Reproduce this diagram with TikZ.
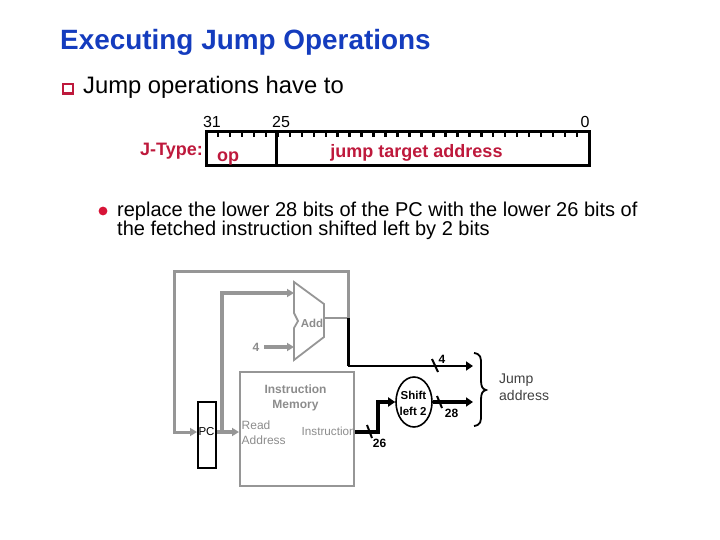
\documentclass[tikz,border=0pt]{standalone}
\usepackage{fontspec}
\setmainfont{Liberation Sans}
\usetikzlibrary{arrows.meta,shapes.geometric}
\definecolor{titleblue}{RGB}{20,60,190}
\definecolor{jred}{RGB}{190,25,60}
\definecolor{bred}{RGB}{215,20,55}
\definecolor{wgray}{RGB}{150,150,150}
\definecolor{tgray}{RGB}{140,140,140}
\tikzset{
 lab/.style={inner sep=0pt,align=center},
 tipg/.style={-{Triangle[length=7pt,width=8pt]}},
 tipb/.style={-{Triangle[length=7pt,width=9pt]}},
 graywire/.style={draw=wgray,line width=3.4pt,tipg},
 slash/.style={draw=black,line width=2pt},
 num/.style={lab,anchor=base,font=\fontsize{12}{12}\selectfont\bfseries},
 redb/.style={lab,anchor=base,text=jred,font=\fontsize{18}{18}\selectfont\bfseries},
 bits/.style={lab,anchor=base,font=\fontsize{16}{16}\selectfont},
}
\begin{document}
\begin{tikzpicture}[x=1pt,y=-1pt]
\useasboundingbox (0,0) rectangle (720,540);
% titles
\node[lab,anchor=base west,text=titleblue,font=\fontsize{27.9}{27.9}\selectfont\bfseries] (title) at (60,49.5) {Executing Jump Operations};
\node[draw=jred,line width=1.6pt,fill=white,minimum width=10.5pt,minimum height=9pt,inner sep=0pt] (b1) at (68,88.5) {};
\draw[jred,line width=2pt] (b1.south west) -- (b1.south east);
\node[lab,anchor=base west,font=\fontsize{23.8}{23.8}\selectfont] (t1) at (83,94) {Jump operations have to};
\node[bits] (n31) at (212,128) {31};
\node[bits] (n25) at (281,128) {25};
\node[bits] (n0) at (585,128) {0};
\node[redb,anchor=base east] (jt) at (203,156) {J-Type:};
% field box
\draw[line width=3pt] (206,132) rectangle (589,166);
\draw[line width=3pt] (276.5,132) -- (276.5,166);
\foreach \i in {1,...,31}
  \draw[line width=2.4pt] ({206+\i*11.97},132) -- ({206+\i*11.97},137);
\node[redb] (op) at (228,162) {op};
\node[redb] (jta) at (416.5,158) {jump target address};
% bullet
\fill[bred] (103,211) circle (4.4pt);
\node[lab,anchor=base west,font=\fontsize{20}{20}\selectfont] (t2a) at (117,216) {replace the lower 28 bits of the PC with the lower 26 bits of};
\node[lab,anchor=base west,font=\fontsize{20}{20}\selectfont] (t2b) at (117,236) {the fetched instruction shifted left by 2 bits};
% adder
\draw[wgray,line width=1.8pt,line join=miter] (294,282) -- (324,304) -- (324,337) -- (294,360) -- (294,328) -- (298,321) -- (294,313) -- cycle;
\node[lab,anchor=base,text=tgray,font=\fontsize{11.5}{11.5}\selectfont\bfseries] (add) at (312,327) {Add};
\coordinate (addIn1) at (294,293);
\coordinate (addIn2) at (294,347);
\coordinate (addOut) at (324,318);
\coordinate (corner) at (348,318);
% memory
\node[draw=wgray,line width=2pt,minimum width=114pt,minimum height=114pt,inner sep=0pt] (mem) at (297,429) {};
\node[lab,anchor=base,text=tgray,font=\fontsize{12}{12}\selectfont\bfseries] (memt) at (295.5,393) {Instruction};
\node[lab,anchor=base,text=tgray,font=\fontsize{12}{12}\selectfont\bfseries] (memu) at (295.5,408) {Memory};
\node[lab,anchor=base west,text=tgray,font=\fontsize{12}{12}\selectfont] (ra) at (241.5,429) {Read};
\node[lab,anchor=base west,text=tgray,font=\fontsize{12}{12}\selectfont] (rb) at (241.5,444) {Address};
\node[lab,anchor=base west,text=tgray,font=\fontsize{11.7}{11.7}\selectfont] (ins) at (301.5,435) {Instruction};
% PC
\node[draw=black,line width=2pt,minimum width=18pt,minimum height=66pt,inner sep=0pt] (pc) at (207,435) {};
\node[lab,anchor=base,font=\fontsize{11.5}{11.5}\selectfont] (pct) at (206.5,435) {PC};
% four
\node[lab,anchor=base,text=tgray,font=\fontsize{12}{12}\selectfont\bfseries] (four) at (256,351) {4};
% gray wires
\draw[draw=wgray,line width=3.6pt,tipg] (264,347) -- (addIn2);
\draw[draw=wgray,line width=1.8pt] (addOut) -- (corner);
\draw[draw=wgray,line width=3pt,tipg] (corner) -- (348,271) -- (174,271) -- (174,432) -- (pc.west |- 0,432);
\draw[graywire] (pc.east |- 0,432) -- (mem.west |- 0,432);
\draw[draw=wgray,line width=3.8pt,tipg] (222,432) -- (222,293) -- (addIn1);
% shift
\node[draw=black,line width=1.6pt,ellipse,minimum width=36pt,minimum height=50pt,inner sep=0pt,fill=white] (sh) at (414,402) {};
\node[lab,anchor=base,font=\fontsize{11.5}{11.5}\selectfont\bfseries] (sht) at (413.5,399) {Shift};
\node[lab,anchor=base,font=\fontsize{11.5}{11.5}\selectfont\bfseries] (shu) at (413,415) {left 2};
% black wires
\draw[draw=black,line width=3.4pt,tipb] (mem.east |- 0,432) -- (378,432) -- (378,402) -- (sh.west);
\draw[draw=black,line width=3.4pt,tipb] (sh.east) -- (473,402);
\draw[draw=black,line width=3pt] (corner) -- (348,366);
\draw[draw=black,line width=2.2pt,tipb] (348,366) -- (473,366);
\draw[slash] (367,425) -- (372,438);
\draw[slash] (432,359) -- (438,372);
\draw[slash] (437,396) -- (442,408);
\node[num] (l26) at (379.5,447) {26};
\node[num] (l4) at (442,363) {4};
\node[num] (l28) at (451.5,417) {28};
% brace
\draw[line width=1.8pt] (474,353) .. controls (481,354) and (481,358) .. (481,364) -- (481,380) .. controls (481,386) and (482,389) .. (486,390) .. controls (482,391) and (481,394) .. (481,400) -- (481,415) .. controls (481,421) and (481,425) .. (474,426);
\node[lab,anchor=base west,font=\fontsize{14}{14}\selectfont,text=black!75] (ja) at (499,383) {Jump};
\node[lab,anchor=base west,font=\fontsize{14}{14}\selectfont,text=black!75] (jb) at (499,400) {address};
\end{tikzpicture}
\end{document}
